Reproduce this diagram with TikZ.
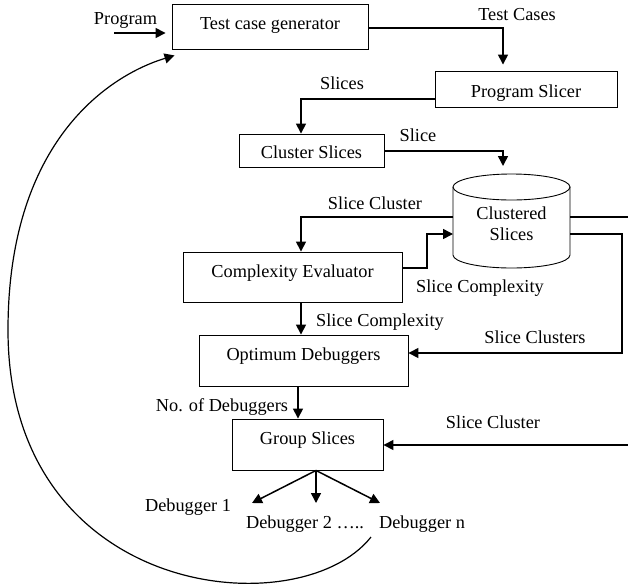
\documentclass[tikz,border=0pt]{standalone}
\usepackage{fontspec}
\setmainfont{Liberation Serif}
\usetikzlibrary{arrows.meta}
\newcommand\dfont{\fontsize{18.3}{21}\selectfont}
\begin{document}
\begin{tikzpicture}[x=1pt,y=-1pt,
  box/.style={draw,line width=0.9pt,inner sep=0pt,font=\dfont},
  arr/.style={line width=1.5pt,-{Triangle[length=10pt,width=10pt]}},
  ln/.style={line width=1.5pt},
  lab/.style={font=\dfont,inner sep=0pt,anchor=base}]
\useasboundingbox (0,0) rectangle (628,587);
% boxes
\node[box,minimum width=196pt,minimum height=45pt,text height=12pt,text depth=7pt] (tcg) at (270,26.5) {Test case generator};
\node[box,minimum width=182pt,minimum height=36pt,text height=16pt,text depth=0pt] (ps) at (526,89) {Program Slicer};
\node[box,minimum width=145pt,minimum height=33pt,text height=16pt,text depth=1pt] (cls) at (311.5,150.5) {Cluster Slices};
\node[box,minimum width=219pt,minimum height=50pt,text height=12pt,text depth=12pt] (ce) at (292.5,277) {Complexity Evaluator};
\node[box,minimum width=209pt,minimum height=51pt,text height=12pt,text depth=12pt] (od) at (303.5,360.5) {Optimum Debuggers};
\node[box,minimum width=151pt,minimum height=51pt,text height=12pt,text depth=12pt] (gs) at (307.5,444.5) {Group Slices};
% cylinder
\node[minimum width=117pt,minimum height=94pt,inner sep=0pt,outer sep=0pt] (cyl) at (511.5,221) {};
\draw[line width=0.9pt] (511.5,187) ellipse [x radius=58.5pt,y radius=13pt];
\draw[line width=0.9pt] (453,187) -- (453,255) arc[start angle=180,end angle=360,x radius=58.5pt,y radius=13pt] -- (570,187);
\node[font=\dfont,align=center,inner sep=0pt] (cyltext) at (511.5,224) {Clustered\\Slices};
% free-end coordinates
\coordinate (pin) at (114,33);
\coordinate (rE1) at (628,217);
\coordinate (rE2) at (628,445);
\coordinate (d1) at (252,503);
\coordinate (d2) at (316,503);
\coordinate (dn) at (380,503);
\coordinate (cs) at (371,537);
% labels
\node[lab] (lprog) at (125.5,24) {Program};
\node[lab] (ltc) at (517,20) {Test Cases};
\node[lab] (lslices) at (342,89) {Slices};
\node[lab] (lslice) at (418,141) {Slice};
\node[lab] (lsc1) at (375,209) {Slice Cluster};
\node[lab] (lscx1) at (480,292) {Slice Complexity};
\node[lab] (lscx2) at (380,326) {Slice Complexity};
\node[lab] (lscs) at (535,343) {Slice Clusters};
\node[lab] (lnod) at (222,411) {No. of Debuggers};
\node[lab] (lsc2) at (493,428) {Slice Cluster};
\node[lab] (ld1) at (188,511) {Debugger 1};
\node[lab] (ld2) at (305,528) {Debugger 2 …..};
\node[lab] (ldn) at (422,528) {Debugger n};
% connectors
\draw[arr,shorten >=6pt] (pin) -- (tcg.west |- pin);
\draw[arr,shorten >=6pt] (tcg.east |- 0,28) -| (ps.north -| 503,0);
\draw[arr] (ps.west |- 0,99) -| (cls.north -| 301,0);
\draw[arr,shorten >=8pt] (cls.east |- 0,151) -| (cyl.north -| 503,0);
\draw[arr] (cyl.west |- 0,217) -| (ce.north -| 301,0);
\draw[arr] (ce.east |- 0,268) -| (427,234) -- (cyl.west |- 0,234);
\draw[ln] (cyl.east |- 0,217) -- (rE1);
\draw[arr] (cyl.east |- 0,234) -| (622,353) -- (od.east |- 0,353);
\draw[arr] (ce.south -| 301,0) -- (od.north -| 301,0);
\draw[arr] (od.south -| 298,0) -- (gs.north -| 298,0);
\draw[arr] (rE2) -- (gs.east |- rE2);
\draw[arr] (gs.south -| 316,0) -- (d1);
\draw[arr] (gs.south -| 316,0) -- (d2);
\draw[arr] (gs.south -| 316,0) -- (dn);
\draw[arr,line width=1.2pt] (cs) .. controls (300,627) and (8,600) .. (8,330) .. controls (8,140) and (110,75) .. ([xshift=3pt,yshift=-6pt]tcg.south west);
\end{tikzpicture}
\end{document}
